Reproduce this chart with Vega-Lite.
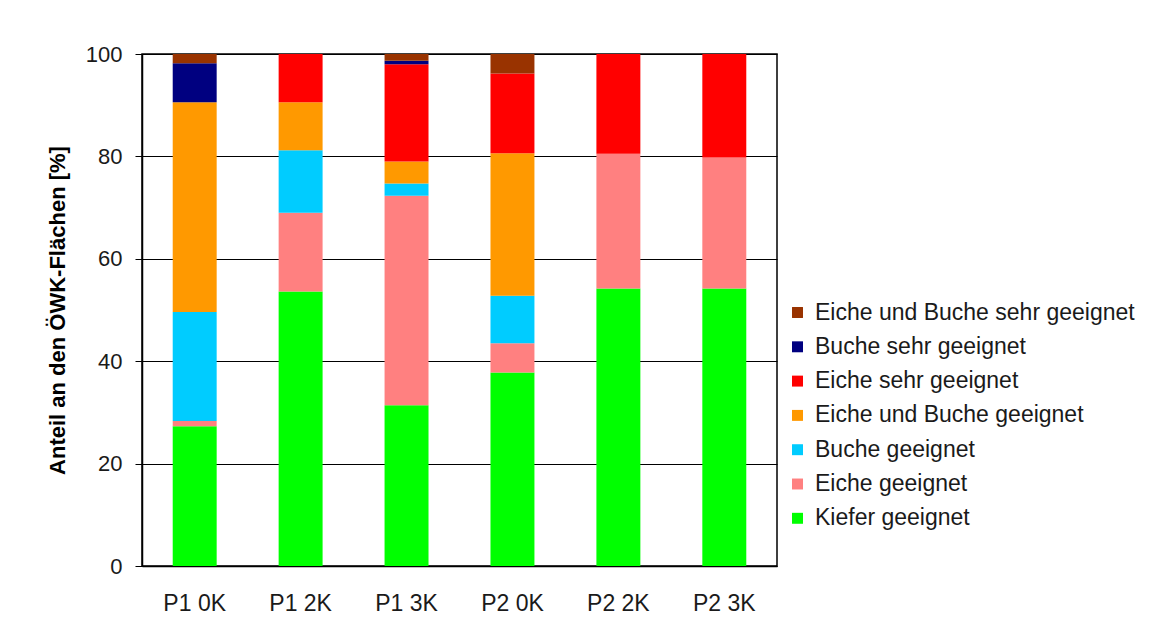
{
  "$schema": "https://vega.github.io/schema/vega-lite/v6.json",
  "width": 635,
  "height": 512,
  "autosize": {"type": "none"},
  "padding": {"left": 142, "top": 54, "right": 377, "bottom": 66},
  "background": "white",
  "data": {
    "values": [
      {"Szenario": "P1 0K", "Klasse": "Kiefer geeignet", "ord": 1, "Anteil": 27.3},
      {"Szenario": "P1 0K", "Klasse": "Eiche geeignet", "ord": 2, "Anteil": 1.0},
      {"Szenario": "P1 0K", "Klasse": "Buche geeignet", "ord": 3, "Anteil": 21.3},
      {"Szenario": "P1 0K", "Klasse": "Eiche und Buche geeignet", "ord": 4, "Anteil": 41.0},
      {"Szenario": "P1 0K", "Klasse": "Eiche sehr geeignet", "ord": 5, "Anteil": 0},
      {"Szenario": "P1 0K", "Klasse": "Buche sehr geeignet", "ord": 6, "Anteil": 7.6},
      {"Szenario": "P1 0K", "Klasse": "Eiche und Buche sehr geeignet", "ord": 7, "Anteil": 1.8},

      {"Szenario": "P1 2K", "Klasse": "Kiefer geeignet", "ord": 1, "Anteil": 53.6},
      {"Szenario": "P1 2K", "Klasse": "Eiche geeignet", "ord": 2, "Anteil": 15.4},
      {"Szenario": "P1 2K", "Klasse": "Buche geeignet", "ord": 3, "Anteil": 12.2},
      {"Szenario": "P1 2K", "Klasse": "Eiche und Buche geeignet", "ord": 4, "Anteil": 9.4},
      {"Szenario": "P1 2K", "Klasse": "Eiche sehr geeignet", "ord": 5, "Anteil": 9.4},

      {"Szenario": "P1 3K", "Klasse": "Kiefer geeignet", "ord": 1, "Anteil": 31.4},
      {"Szenario": "P1 3K", "Klasse": "Eiche geeignet", "ord": 2, "Anteil": 40.9},
      {"Szenario": "P1 3K", "Klasse": "Buche geeignet", "ord": 3, "Anteil": 2.4},
      {"Szenario": "P1 3K", "Klasse": "Eiche und Buche geeignet", "ord": 4, "Anteil": 4.3},
      {"Szenario": "P1 3K", "Klasse": "Eiche sehr geeignet", "ord": 5, "Anteil": 19.0},
      {"Szenario": "P1 3K", "Klasse": "Buche sehr geeignet", "ord": 6, "Anteil": 0.7},
      {"Szenario": "P1 3K", "Klasse": "Eiche und Buche sehr geeignet", "ord": 7, "Anteil": 1.3},

      {"Szenario": "P2 0K", "Klasse": "Kiefer geeignet", "ord": 1, "Anteil": 37.8},
      {"Szenario": "P2 0K", "Klasse": "Eiche geeignet", "ord": 2, "Anteil": 5.7},
      {"Szenario": "P2 0K", "Klasse": "Buche geeignet", "ord": 3, "Anteil": 9.3},
      {"Szenario": "P2 0K", "Klasse": "Eiche und Buche geeignet", "ord": 4, "Anteil": 27.8},
      {"Szenario": "P2 0K", "Klasse": "Eiche sehr geeignet", "ord": 5, "Anteil": 15.6},
      {"Szenario": "P2 0K", "Klasse": "Eiche und Buche sehr geeignet", "ord": 7, "Anteil": 3.8},

      {"Szenario": "P2 2K", "Klasse": "Kiefer geeignet", "ord": 1, "Anteil": 54.2},
      {"Szenario": "P2 2K", "Klasse": "Eiche geeignet", "ord": 2, "Anteil": 26.3},
      {"Szenario": "P2 2K", "Klasse": "Eiche sehr geeignet", "ord": 5, "Anteil": 19.5},

      {"Szenario": "P2 3K", "Klasse": "Kiefer geeignet", "ord": 1, "Anteil": 54.2},
      {"Szenario": "P2 3K", "Klasse": "Eiche geeignet", "ord": 2, "Anteil": 25.6},
      {"Szenario": "P2 3K", "Klasse": "Eiche sehr geeignet", "ord": 5, "Anteil": 20.2}
    ]
  },
  "mark": {"type": "bar"},
  "encoding": {
    "x": {
      "field": "Szenario",
      "type": "nominal",
      "sort": ["P1 0K", "P1 2K", "P1 3K", "P2 0K", "P2 2K", "P2 3K"],
      "scale": {"paddingInner": 0.585, "paddingOuter": 0.29},
      "axis": {
        "title": null,
        "labelAngle": 0,
        "ticks": false,
        "labelPadding": 26,
        "labelFontSize": 23,
        "labelFont": "Liberation Sans",
        "labelColor": "#1a1a1a",
        "domainColor": "#000000",
        "domainWidth": 1.5
      }
    },
    "y": {
      "field": "Anteil",
      "type": "quantitative",
      "stack": "zero",
      "scale": {"domain": [0, 100], "nice": false},
      "axis": {
        "title": "Anteil an den ÖWK-Flächen [%]",
        "titleFont": "Liberation Sans",
        "titleFontSize": 22,
        "titleFontWeight": "bold",
        "titleColor": "#000000",
        "titlePadding": 16,
        "values": [0, 20, 40, 60, 80, 100],
        "labelFontSize": 22,
        "labelFont": "Liberation Sans",
        "labelColor": "#1a1a1a",
        "labelPadding": 13,
        "tickSize": 7,
        "tickColor": "#000000",
        "domainColor": "#000000",
        "domainWidth": 1.5,
        "grid": true,
        "gridColor": "#000000",
        "gridWidth": 1
      }
    },
    "color": {
      "field": "Klasse",
      "type": "nominal",
      "scale": {
        "domain": [
          "Eiche und Buche sehr geeignet",
          "Buche sehr geeignet",
          "Eiche sehr geeignet",
          "Eiche und Buche geeignet",
          "Buche geeignet",
          "Eiche geeignet",
          "Kiefer geeignet"
        ],
        "range": ["#993300", "#000080", "#FF0000", "#FF9900", "#00CCFF", "#FF8080", "#00FF00"]
      },
      "legend": {
        "title": null,
        "orient": "none",
        "legendX": 644,
        "legendY": 247,
        "symbolType": "square",
        "symbolSize": 120,
        "symbolStrokeWidth": 0,
        "labelFont": "Liberation Sans",
        "labelFontSize": 23,
        "labelColor": "#1a1a1a",
        "labelOffset": 6,
        "rowPadding": 10.3,
        "labelLimit": 400
      }
    },
    "order": {"field": "ord", "type": "quantitative", "sort": "ascending"}
  },
  "config": {
    "view": {"stroke": "#000000", "strokeWidth": 1.5},
    "bar": {"stroke": null}
  }
}
